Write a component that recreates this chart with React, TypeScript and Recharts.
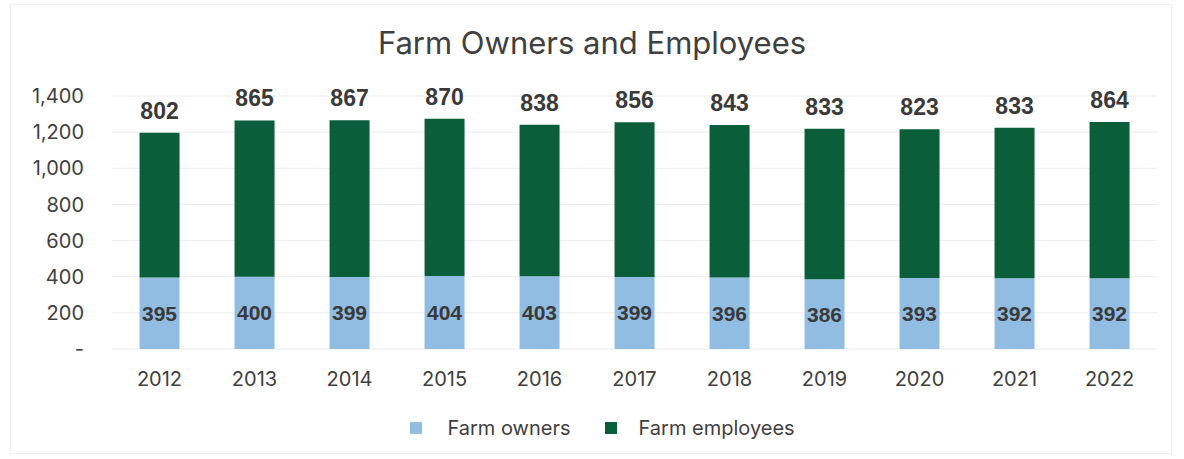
import React from 'react';
import { BarChart, Bar, XAxis, YAxis, CartesianGrid, LabelList, Legend } from 'recharts';

const years = ['2012', '2013', '2014', '2015', '2016', '2017', '2018', '2019', '2020', '2021', '2022'];
const farmOwners = [395, 400, 399, 404, 403, 399, 396, 386, 393, 392, 392];
const farmEmployees = [802, 865, 867, 870, 838, 856, 843, 833, 823, 833, 864];
const yTicks = [0, 200, 400, 600, 800, 1000, 1200, 1400];

const data = years.map((y, i) => ({ year: y, owners: farmOwners[i], employees: farmEmployees[i] }));

const BLUE = '#92bde3';
const GREEN = '#0b5e3a';
const TEXT = '#404040';
const FONT = 'Inter, "Open Sans", sans-serif';
const LABEL_FONT = '"Liberation Sans", Arial, sans-serif';

const fmt = (v: number) => (v === 0 ? '-' : v.toLocaleString('en-US'));

const LegendContent = () => (
  <div style={{ display: 'flex', justifyContent: 'center', alignItems: 'center', fontFamily: FONT, fontSize: 20, color: TEXT, height: 24, paddingLeft: 48 }}>
    <span style={{ display: 'inline-block', width: 12, height: 12, background: BLUE, marginRight: 25 }} />
    <span style={{ marginRight: 35 }}>Farm owners</span>
    <span style={{ display: 'inline-block', width: 12, height: 12, background: GREEN, marginRight: 21 }} />
    <span>Farm employees</span>
  </div>
);

export default function App() {
  return (
    <div style={{ position: 'absolute', left: 0, top: 0, width: 1184, height: 459, background: '#fff' }}>
      <div style={{ position: 'absolute', left: 10, top: 4, width: 1162, height: 450, border: '1px solid #f1f1f1', boxSizing: 'border-box' }} />
      <div style={{ position: 'absolute', left: 0, top: 24, width: 1184, textAlign: 'center', fontFamily: FONT, fontSize: 31, color: TEXT }}>
        Farm Owners and Employees
      </div>
      <BarChart
        width={1184}
        height={459}
        data={data}
        margin={{ top: 96, right: 27, left: 0, bottom: 30 }}
        barCategoryGap="29%"
        style={{ position: 'absolute', left: 0, top: 0 }}
      >
        <CartesianGrid vertical={false} stroke="#ececec" />
        <XAxis
          dataKey="year"
          axisLine={false}
          tickLine={false}
          tick={{ fill: TEXT, fontSize: 20, fontFamily: FONT }}
          tickMargin={17}
          height={40}
        />
        <YAxis
          width={112}
          domain={[0, 1400]}
          ticks={yTicks}
          interval={0}
          tickFormatter={fmt}
          axisLine={false}
          tickLine={false}
          tickSize={0}
          tickMargin={28}
          tick={{ fill: TEXT, fontSize: 20, fontFamily: FONT }}
        />
        <Legend verticalAlign="bottom" height={40} content={<LegendContent />} wrapperStyle={{ top: 416, bottom: 'auto' }} />
        <Bar dataKey="owners" stackId="a" fill={BLUE} isAnimationActive={false}>
          <LabelList
            dataKey="owners"
            position="center"
            fill="#3a3a3a"
            style={{ fontSize: 21, fontWeight: 700, fontFamily: LABEL_FONT }}
          />
        </Bar>
        <Bar dataKey="employees" stackId="a" fill={GREEN} isAnimationActive={false}>
          <LabelList
            dataKey="employees"
            position="top"
            offset={14}
            fill="#3a3a3a"
            style={{ fontSize: 23, fontWeight: 700, fontFamily: LABEL_FONT }}
          />
        </Bar>
      </BarChart>
    </div>
  );
}
